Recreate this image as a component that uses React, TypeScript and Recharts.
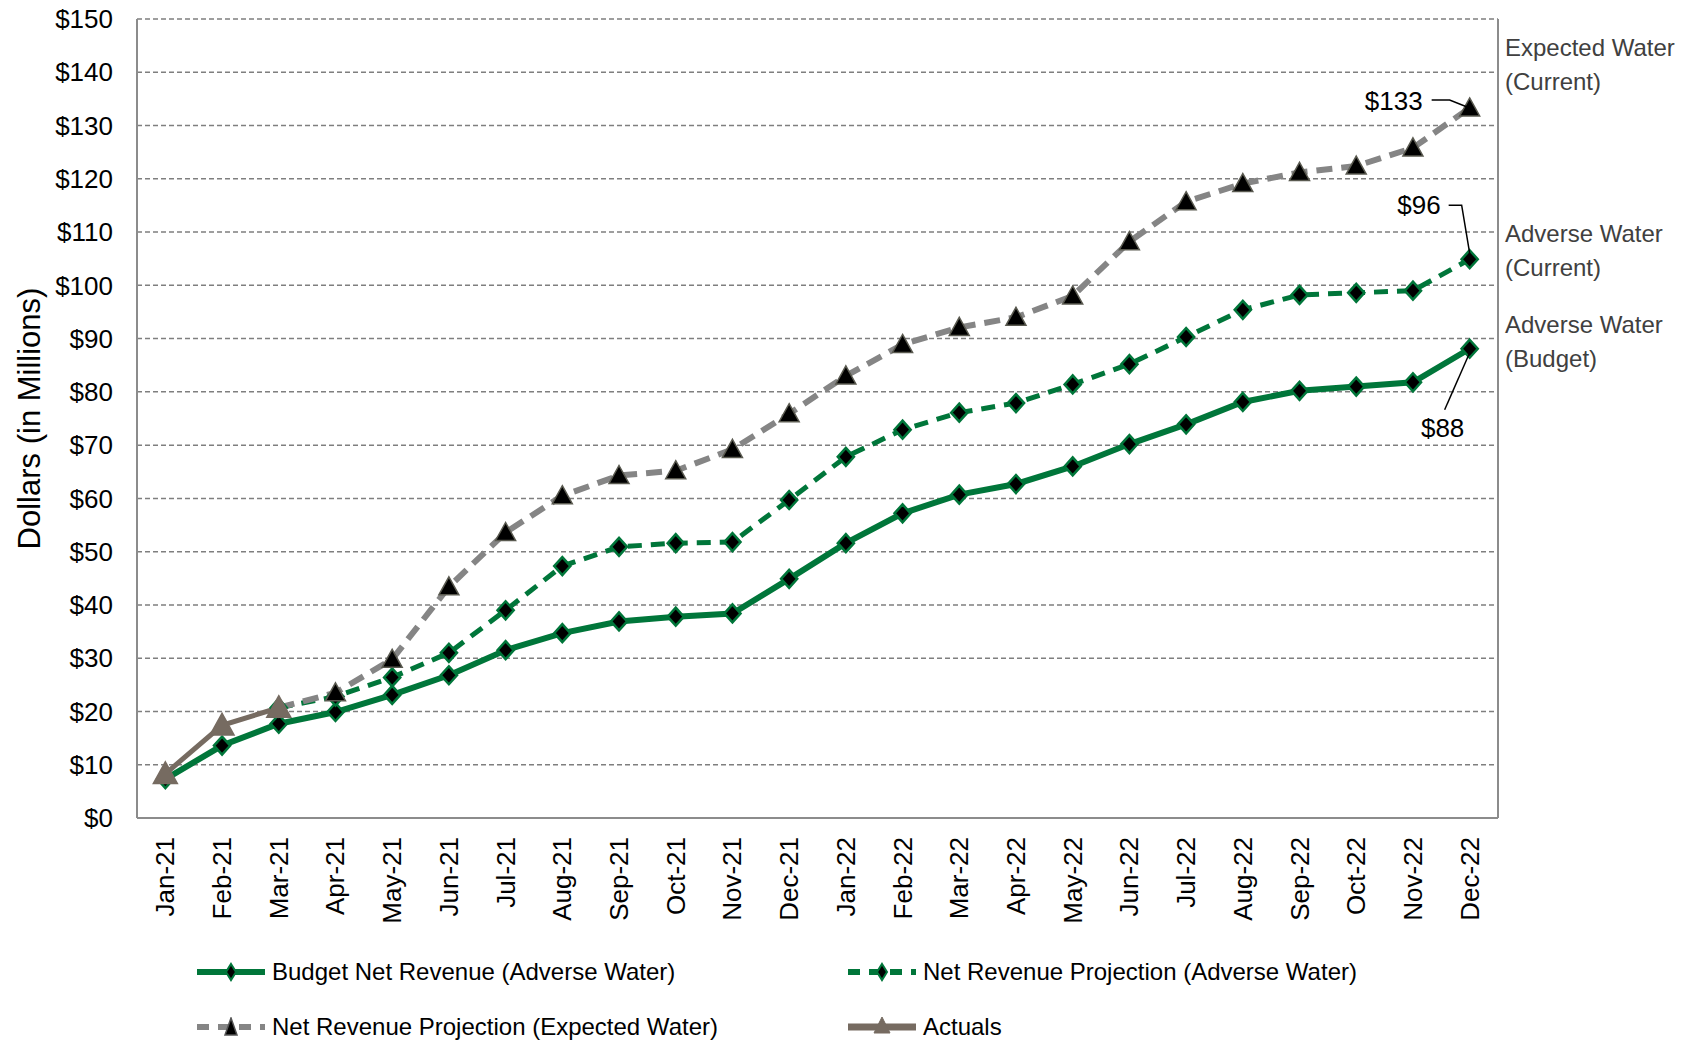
import React from 'react';
import { LineChart, Line, XAxis, YAxis, CartesianGrid, Legend, LabelList } from 'recharts';

const MONTHS = [
  'Jan-21', 'Feb-21', 'Mar-21', 'Apr-21', 'May-21', 'Jun-21', 'Jul-21', 'Aug-21', 'Sep-21', 'Oct-21', 'Nov-21', 'Dec-21',
  'Jan-22', 'Feb-22', 'Mar-22', 'Apr-22', 'May-22', 'Jun-22', 'Jul-22', 'Aug-22', 'Sep-22', 'Oct-22', 'Nov-22', 'Dec-22',
];

// $ millions, cumulative
const BUDGET = [7.3, 13.6, 17.7, 19.9, 23.1, 26.8, 31.5, 34.7, 36.9, 37.8, 38.4, 44.9, 51.6, 57.2, 60.7, 62.7, 66, 70.2, 73.9, 78.1, 80.2, 81, 81.8, 88.1];
const ADVERSE_PROJ = [null, null, 20.7, 22.8, 26.4, 31, 39, 47.3, 50.9, 51.6, 51.8, 59.7, 67.8, 72.9, 76.1, 77.9, 81.4, 85.2, 90.3, 95.4, 98.2, 98.6, 99, 104.9];
const EXPECTED_PROJ = [null, null, 20.7, 23.5, 29.8, 43.4, 53.6, 60.5, 64.3, 65.2, 69.2, 75.9, 83, 88.9, 92.1, 94, 98, 108.2, 115.7, 119.1, 121.2, 122.4, 125.8, 133.3];
const ACTUALS = [8.3, 17.4, 20.7, null, null, null, null, null, null, null, null, null, null, null, null, null, null, null, null, null, null, null, null, null];

const Y_TICKS = [0, 10, 20, 30, 40, 50, 60, 70, 80, 90, 100, 110, 120, 130, 140, 150];

const END_LABELS = { expected: '$133', adverse: '$96', budget: '$88' };
const SIDE_LABELS = {
  expected: ['Expected Water', '(Current)'],
  adverse: ['Adverse Water', '(Current)'],
  budget: ['Adverse Water', '(Budget)'],
};

const LEGEND_NAMES = [
  'Budget Net Revenue (Adverse Water)',
  'Net Revenue Projection (Adverse Water)',
  'Net Revenue Projection (Expected Water)',
  'Actuals',
];

const data = MONTHS.map((m, i) => ({
  month: m,
  budget: BUDGET[i],
  adverse: ADVERSE_PROJ[i],
  expected: EXPECTED_PROJ[i],
  actuals: ACTUALS[i],
}));

const FONT = '"Liberation Sans", Arial, sans-serif';
const GREEN = '#00763a';
const GRAY = '#858585';
const BROWN = '#766b61';
const LAST = MONTHS.length - 1;
const HALF_BAND = (1497.7 - 137) / MONTHS.length / 2;

const diamondDot = (p: any) => {
  if (p.cx == null || p.cy == null || p.value == null) return <g key={`d-${p.index}`} />;
  const s = 9;
  return (
    <polygon
      key={`d-${p.index}`}
      points={`${p.cx},${p.cy - s} ${p.cx + s * 0.9},${p.cy} ${p.cx},${p.cy + s} ${p.cx - s * 0.9},${p.cy}`}
      fill="#000"
      stroke={GREEN}
      strokeWidth={2.5}
    />
  );
};

const triangleDot = (fill: string, stroke: string, s: number) => (p: any) => {
  if (p.cx == null || p.cy == null || p.value == null) return <g key={`t-${p.index}`} />;
  return (
    <polygon
      key={`t-${p.index}`}
      points={`${p.cx},${p.cy - s} ${p.cx + s},${p.cy + s * 0.8} ${p.cx - s},${p.cy + s * 0.8}`}
      fill={fill}
      stroke={stroke}
      strokeWidth={1.5}
    />
  );
};

const SideText = ({ lines, y }: { lines: string[]; y: number }) => (
  <text x={1505} y={y} fontSize={24} fill="#404040" fontFamily={FONT} dominantBaseline="central">
    <tspan x={1505}>{lines[0]}</tspan>
    <tspan x={1505} dy={34}>{lines[1]}</tspan>
  </text>
);

const expectedLabel = (p: any) => {
  if (p.index !== LAST) return null;
  const { x, y } = p;
  return (
    <g>
      <text x={x - 47} y={y - 7} textAnchor="end" dominantBaseline="central" fontSize={26} fontFamily={FONT} fill="#000">
        {END_LABELS.expected}
      </text>
      <polyline points={`${x - 38},${y - 8} ${x - 20},${y - 8} ${x},${y}`} fill="none" stroke="#000" strokeWidth={1.5} />
      <SideText lines={SIDE_LABELS.expected} y={47} />
    </g>
  );
};

const adverseLabel = (p: any) => {
  if (p.index !== LAST) return null;
  const { x, y } = p;
  return (
    <g>
      <text x={x - 29} y={y - 54} textAnchor="end" dominantBaseline="central" fontSize={26} fontFamily={FONT} fill="#000">
        {END_LABELS.adverse}
      </text>
      <polyline points={`${x - 21},${y - 54} ${x - 8},${y - 54} ${x},${y - 6}`} fill="none" stroke="#000" strokeWidth={1.5} />
      <SideText lines={SIDE_LABELS.adverse} y={233} />
    </g>
  );
};

const budgetLabel = (p: any) => {
  if (p.index !== LAST) return null;
  const { x, y } = p;
  return (
    <g>
      <text x={x - 27} y={y + 79} textAnchor="middle" dominantBaseline="central" fontSize={26} fontFamily={FONT} fill="#000">
        {END_LABELS.budget}
      </text>
      <line x1={x - 25} y1={y + 61} x2={x} y2={y + 4} stroke="#000" strokeWidth={1.5} />
      <SideText lines={SIDE_LABELS.budget} y={324} />
    </g>
  );
};

const XTick = (p: any) => (
  <text
    x={p.x}
    y={p.y}
    transform={`rotate(-90, ${p.x}, ${p.y})`}
    textAnchor="end"
    dominantBaseline="central"
    fontSize={26}
    fontFamily={FONT}
    fill="#000"
  >
    {p.payload.value}
  </text>
);

const LegendIcon = ({ kind }: { kind: number }) => {
  const w = 68;
  const mid = 10;
  let line;
  let marker;
  if (kind === 0) {
    line = <line x1={0} y1={mid} x2={w} y2={mid} stroke={GREEN} strokeWidth={6} />;
    marker = <polygon points={`34,2 39,10 34,18 29,10`} fill="#000" stroke={GREEN} strokeWidth={2} />;
  } else if (kind === 1) {
    line = <line x1={0} y1={mid} x2={w} y2={mid} stroke={GREEN} strokeWidth={6} strokeDasharray="12 9" />;
    marker = <polygon points={`34,2 39,10 34,18 29,10`} fill="#000" stroke={GREEN} strokeWidth={2} />;
  } else if (kind === 2) {
    line = <line x1={0} y1={mid} x2={w} y2={mid} stroke={GRAY} strokeWidth={6} strokeDasharray="12 9" />;
    marker = <polygon points={`34,1 40,18 28,18`} fill="#000" stroke="#555" strokeWidth={1.5} />;
  } else {
    line = <line x1={0} y1={mid} x2={w} y2={mid} stroke={BROWN} strokeWidth={7} />;
    marker = <polygon points={`34,0 42,16 26,16`} fill={BROWN} stroke={BROWN} strokeWidth={1} />;
  }
  return (
    <svg width={w} height={20} style={{ display: 'block' }}>
      {line}
      {marker}
    </svg>
  );
};

const LEGEND_POS = [
  { left: 197, top: 972 },
  { left: 848, top: 972 },
  { left: 197, top: 1027 },
  { left: 848, top: 1027 },
];

const renderLegend = () => (
  <div style={{ position: 'relative', width: 1694, height: 90 }}>
    {LEGEND_NAMES.map((name, i) => (
      <div
        key={name}
        style={{
          position: 'absolute',
          left: LEGEND_POS[i].left,
          top: LEGEND_POS[i].top - 950 - 14,
          display: 'flex',
          alignItems: 'center',
          height: 28,
          fontFamily: FONT,
          fontSize: 24,
          color: '#000',
          whiteSpace: 'nowrap',
        }}
      >
        <LegendIcon kind={i} />
        <span style={{ marginLeft: 7 }}>{name}</span>
      </div>
    ))}
  </div>
);

const App: React.FC = () => (
  <div style={{ position: 'absolute', left: 0, top: 0, width: 1694, height: 1040, background: '#fff' }}>
    <LineChart width={1694} height={1040} data={data} margin={{ top: 19, right: 195, bottom: 112, left: 0 }}>
      <CartesianGrid horizontal vertical={false} stroke="#7f7f7f" strokeWidth={1.5} strokeDasharray="5 3" />
      <XAxis
        dataKey="month"
        interval={0}
        height={110}
        padding={{ left: HALF_BAND, right: HALF_BAND }}
        tick={<XTick />}
        tickLine={false}
        tickSize={0}
        tickMargin={19}
        axisLine={{ stroke: '#8c8c8c', strokeWidth: 2 }}
      />
      <XAxis xAxisId="top" orientation="top" dataKey="month" height={0} padding={{ left: HALF_BAND, right: HALF_BAND }} tick={false} tickLine={false} axisLine={{ stroke: '#8c8c8c', strokeWidth: 2 }} />
      <YAxis
        domain={[0, 150]}
        ticks={Y_TICKS}
        interval={0}
        width={137}
        tickFormatter={(v: number) => `$${v}`}
        tick={{ fontSize: 26, fontFamily: FONT, fill: '#000' }}
        tickLine={false}
        tickSize={0}
        tickMargin={24}
        axisLine={{ stroke: '#8c8c8c', strokeWidth: 2 }}
        label={{
          content: (props: any) => {
            const vb = props.viewBox || { x: 0, y: 19, width: 137, height: 799 };
            const cx = 29;
            const cy = vb.y + vb.height / 2;
            return (
              <text x={cx} y={cy} transform={`rotate(-90, ${cx}, ${cy})`} textAnchor="middle" dominantBaseline="central" fontSize={31} fontFamily={FONT} fill="#000">
                Dollars (in Millions)
              </text>
            );
          },
        }}
      />
      <YAxis yAxisId="right" orientation="right" domain={[0, 150]} width={1} tick={false} tickLine={false} axisLine={{ stroke: '#8c8c8c', strokeWidth: 2 }} />
      <Legend layout="horizontal" verticalAlign="middle" align="center" content={renderLegend} wrapperStyle={{ position: 'absolute', left: 0, top: 950, width: 1694 }} />
      <Line
        dataKey="budget"
        name={LEGEND_NAMES[0]}
        stroke={GREEN}
        strokeWidth={6}
        dot={diamondDot}
        activeDot={false}
        isAnimationActive={false}
      >
        <LabelList dataKey="budget" content={budgetLabel} />
      </Line>
      <Line
        dataKey="adverse"
        name={LEGEND_NAMES[1]}
        stroke={GREEN}
        strokeWidth={5}
        strokeDasharray="14 9"
        dot={diamondDot}
        activeDot={false}
        isAnimationActive={false}
      >
        <LabelList dataKey="adverse" content={adverseLabel} />
      </Line>
      <Line
        dataKey="expected"
        name={LEGEND_NAMES[2]}
        stroke={GRAY}
        strokeWidth={6}
        strokeDasharray="16 9"
        dot={triangleDot('#000', '#5a5a50', 10)}
        activeDot={false}
        isAnimationActive={false}
      >
        <LabelList dataKey="expected" content={expectedLabel} />
      </Line>
      <Line
        dataKey="actuals"
        name={LEGEND_NAMES[3]}
        stroke={BROWN}
        strokeWidth={5}
        dot={triangleDot(BROWN, BROWN, 12)}
        activeDot={false}
        isAnimationActive={false}
      />
    </LineChart>
  </div>
);

export default App;
